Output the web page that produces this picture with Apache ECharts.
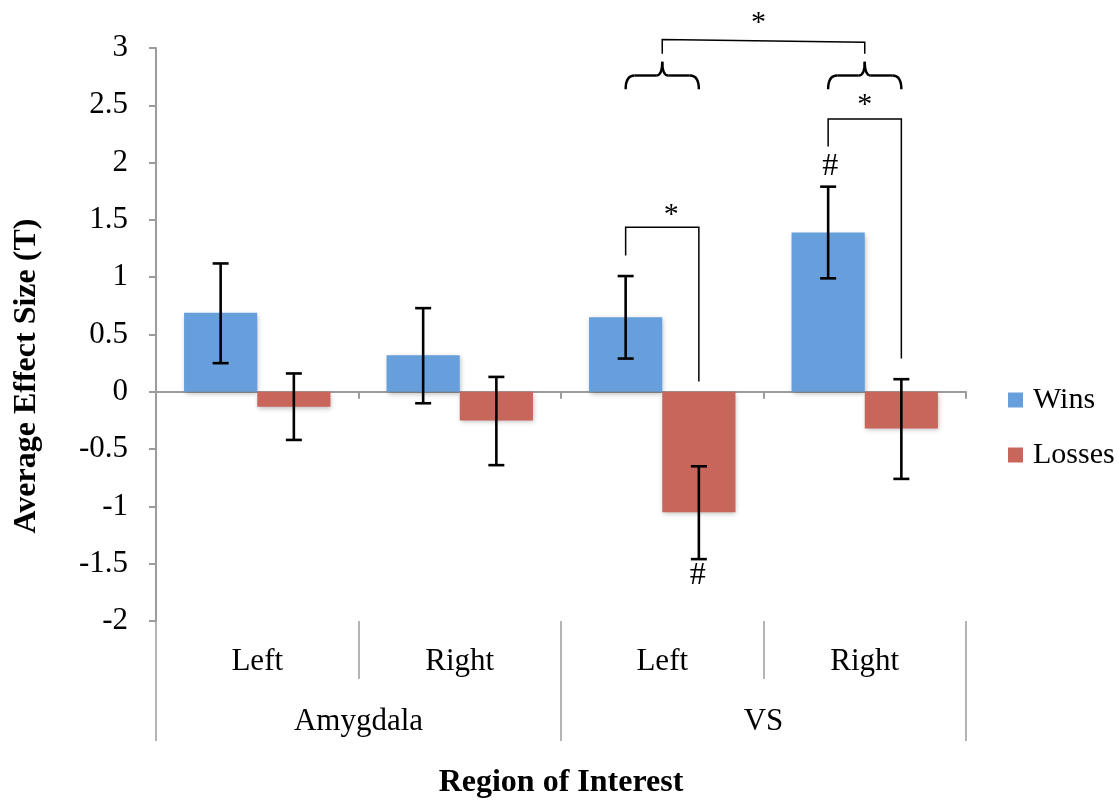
<!DOCTYPE html>
<html>
<head>
<meta charset="utf-8">
<script src="https://cdn.jsdelivr.net/npm/echarts@6/dist/echarts.min.js"></script>
<style>html,body{margin:0;padding:0;background:#fff;overflow:hidden;}#c{width:1119px;height:804px;}</style>
</head>
<body>
<div id="c"></div>
<script>
// ---- data ----
const categories = ['Left', 'Right', 'Left', 'Right'];
const regions = ['Amygdala', 'VS'];
const wins = [0.69, 0.32, 0.65, 1.39];
const losses = [-0.13, -0.25, -1.05, -0.32];
const winsLow = [0.25, -0.10, 0.29, 0.99];
const winsHigh = [1.12, 0.73, 1.01, 1.79];
const lossesLow = [-0.42, -0.64, -1.46, -0.76];
const lossesHigh = [0.16, 0.13, -0.65, 0.11];
const yTicks = { min: -2, max: 3, interval: 0.5 };
const yTitle = 'Average Effect Size (T)';
const xTitle = 'Region of Interest';
// significance brackets: [category, fromY (wins side), topY, toY (losses side)]
const pairBrackets = [[2, 1.19, 1.436, 0.09], [3, 2.14, 2.38, 0.29]];
// braces over categories: [category, bottomY, flatY, tipY]
const braces = [[2, 2.64, 2.76, 2.88], [3, 2.64, 2.76, 2.88]];
// bracket between categories: [fromCat, toCat, baseY, topYFrom, topYTo]
const groupBrackets = [[2, 3, 2.95, 3.074, 3.05]];
// text marks: [category, offset within band, y, text]
const marks = [[2, 0.045, 1.594, '*'], [3, 0.0, 2.55, '*'], [2, 0.475, 3.27, '*'],
               [3, -0.17, 1.963, '#'], [2, 0.175, -1.60, '#']];

const blue = '#669FDB';
const red = '#C9665C';
const gray = '#9c9c9c';
const serif = '"Liberation Serif", "Times New Roman", serif';
const gapPct = 27.7;
const halfBar = (1 - gapPct / 100) / 4; // bar-center offset in band units

const chart = echarts.init(document.getElementById('c'));

function errItem(side) {
  return function (params, api) {
    const x = api.value(0);
    const lo = api.coord([x, api.value(1)]);
    const hi = api.coord([x, api.value(2)]);
    const band = api.size([1, 0])[0];
    const cx = lo[0] + side * band * halfBar;
    const cap = 8;
    const st = { stroke: '#000', lineWidth: 2.6 };
    return {
      type: 'group',
      children: [
        { type: 'line', shape: { x1: cx, y1: lo[1], x2: cx, y2: hi[1] }, style: st },
        { type: 'line', shape: { x1: cx - cap, y1: lo[1], x2: cx + cap, y2: lo[1] }, style: st },
        { type: 'line', shape: { x1: cx - cap, y1: hi[1], x2: cx + cap, y2: hi[1] }, style: st }
      ]
    };
  };
}

const shadow = { shadowBlur: 5, shadowColor: 'rgba(0,0,0,0.28)', shadowOffsetX: 1, shadowOffsetY: 2 };

chart.setOption({
  animation: false,
  grid: { left: 156, width: 810, top: 48, height: 577 },
  legend: {
    data: ['Wins', 'Losses'], orient: 'vertical', left: 1008, top: 385, padding: 0,
    icon: 'rect', itemWidth: 15, itemHeight: 15, itemGap: 25,
    textStyle: { fontFamily: serif, fontSize: 30, color: '#000', padding: [0, 0, 0, 5] }
  },
  xAxis: [
    {
      type: 'category', data: categories, position: 'bottom',
      axisLine: { onZero: true, lineStyle: { color: gray, width: 2 } },
      axisTick: { show: true, length: 7, lineStyle: { color: gray, width: 2 } },
      axisLabel: { show: false }
    },
    {
      type: 'category', data: categories, position: 'bottom',
      axisLine: { show: false, onZero: false },
      axisTick: { show: true, length: 58, lineStyle: { color: gray, width: 1.5 } },
      axisLabel: { margin: 25, fontFamily: serif, fontSize: 31, color: '#000' }
    },
    {
      type: 'category', data: regions, position: 'bottom',
      axisLine: { show: false, onZero: false },
      axisTick: { show: true, length: 120, lineStyle: { color: gray, width: 1.5 } },
      axisLabel: { margin: 85, fontFamily: serif, fontSize: 31, color: '#000' },
      name: xTitle, nameLocation: 'middle', nameGap: 146,
      nameTextStyle: { fontFamily: serif, fontSize: 32, fontWeight: 'bold', color: '#000' }
    }
  ],
  yAxis: {
    type: 'value', min: yTicks.min, max: yTicks.max, interval: yTicks.interval,
    axisLine: { show: true, lineStyle: { color: gray, width: 2 } },
    axisTick: { show: true, length: 7, lineStyle: { color: gray, width: 2 } },
    splitLine: { show: false },
    axisLabel: { margin: 28, fontFamily: serif, fontSize: 31, color: '#000' }
  },
  series: [
    { name: 'Wins', type: 'bar', data: wins, barGap: '0%', barCategoryGap: gapPct + '%',
      itemStyle: Object.assign({ color: blue }, shadow) },
    { name: 'Losses', type: 'bar', data: losses, barGap: '0%', barCategoryGap: gapPct + '%',
      itemStyle: Object.assign({ color: red }, shadow) },
    { name: 'WinsErr', type: 'custom', renderItem: errItem(-1), z: 5,
      data: wins.map((v, i) => [i, winsLow[i], winsHigh[i]]), encode: { x: 0, y: [1, 2] } },
    { name: 'LossesErr', type: 'custom', renderItem: errItem(1), z: 5,
      data: losses.map((v, i) => [i, lossesLow[i], lossesHigh[i]]), encode: { x: 0, y: [1, 2] } }
  ]
});

// ---- annotations positioned from data coordinates ----
const finder = { xAxisIndex: 0, yAxisIndex: 0 };
function px(cat, off, y) {
  const p0 = chart.convertToPixel(finder, [0, 0]);
  const p1 = chart.convertToPixel(finder, [1, 0]);
  const band = p1[0] - p0[0];
  const p = chart.convertToPixel(finder, [cat, y]);
  return [p[0] + off * band, p[1]];
}
const g = [];
const thin = { stroke: '#000', lineWidth: 1.5, fill: null };
const thick = { stroke: '#000', lineWidth: 2.4, fill: null };
pairBrackets.forEach(([c, y0, yt, y1]) => {
  const a = px(c, -halfBar, y0), b = px(c, -halfBar, yt), d = px(c, halfBar, yt), e = px(c, halfBar, y1);
  g.push({ type: 'polyline', shape: { points: [a, b, d, e] }, style: thin });
});
braces.forEach(([c, yb, yf, ytip]) => {
  const l = px(c, -halfBar, yb), r = px(c, halfBar, yb), f = px(c, 0, yf), t = px(c, 0, ytip);
  const x0 = l[0], x1 = r[0], xc = f[0], ybp = l[1], yfp = f[1], ytp = t[1];
  const h = 9, k = 6;
  g.push({ type: 'bezierCurve', shape: { x1: x0, y1: ybp, x2: x0 + h, y2: yfp, cpx1: x0, cpy1: yfp }, style: thick });
  g.push({ type: 'line', shape: { x1: x0 + h, y1: yfp, x2: xc - k, y2: yfp }, style: thick });
  g.push({ type: 'bezierCurve', shape: { x1: xc - k, y1: yfp, x2: xc, y2: ytp, cpx1: xc, cpy1: yfp }, style: thick });
  g.push({ type: 'bezierCurve', shape: { x1: xc + k, y1: yfp, x2: xc, y2: ytp, cpx1: xc, cpy1: yfp }, style: thick });
  g.push({ type: 'line', shape: { x1: xc + k, y1: yfp, x2: x1 - h, y2: yfp }, style: thick });
  g.push({ type: 'bezierCurve', shape: { x1: x1, y1: ybp, x2: x1 - h, y2: yfp, cpx1: x1, cpy1: yfp }, style: thick });
});
groupBrackets.forEach(([c0, c1, yb, yt0, yt1]) => {
  const a = px(c0, 0, yb), b = px(c0, 0, yt0), d = px(c1, 0, yt1), e = px(c1, 0, yb);
  g.push({ type: 'polyline', shape: { points: [a, b, d, e] }, style: thin });
});
marks.forEach(([c, off, y, t]) => {
  const p = px(c, off, y);
  const isStar = t === '*';
  g.push({ type: 'text', x: p[0], y: p[1] + (isStar ? 6 : 0),
    style: { text: t, fontFamily: serif, fontSize: isStar ? 30 : 32, fill: '#000',
             textAlign: 'center', textVerticalAlign: 'middle' } });
});
// y-axis title
g.push({ type: 'text', x: 27, y: 376, rotation: Math.PI / 2,
  style: { text: yTitle, fontFamily: serif, fontSize: 32, fontWeight: 'bold', fill: '#000',
           textAlign: 'center', textVerticalAlign: 'middle' } });
chart.setOption({ graphic: g });
</script>
</body>
</html>
